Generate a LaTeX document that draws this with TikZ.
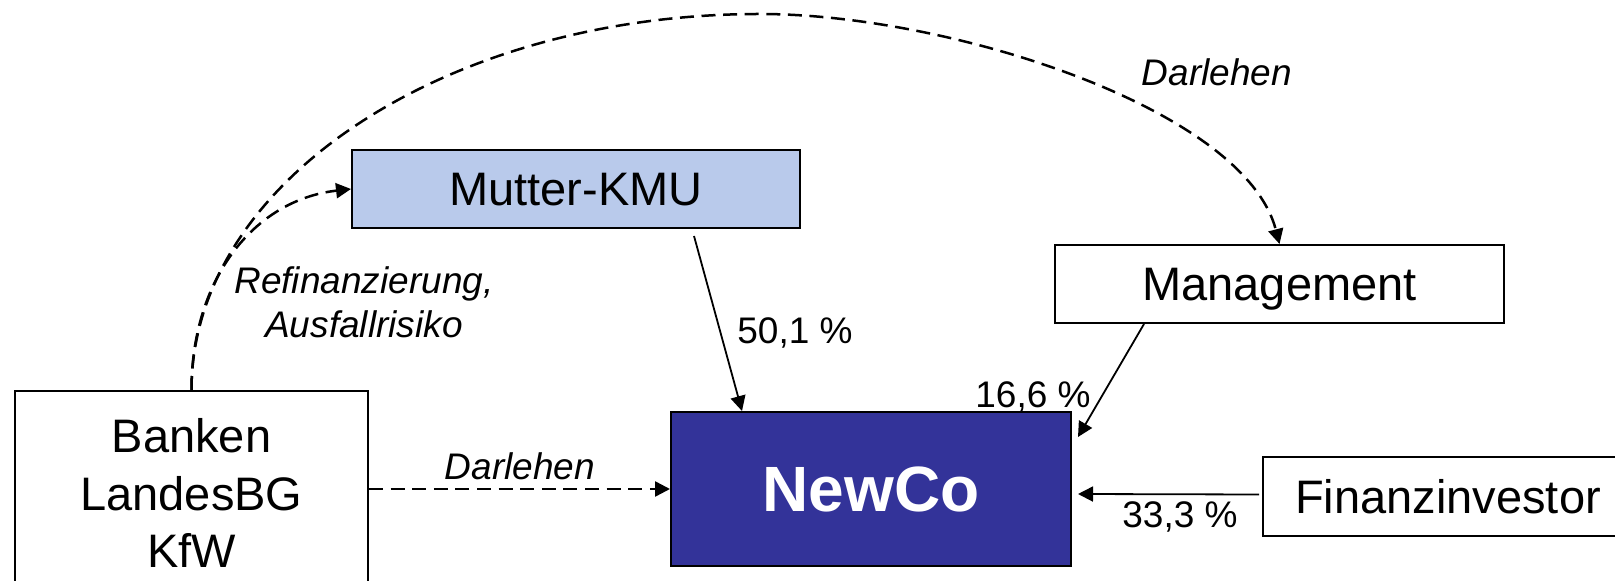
\documentclass[tikz,border=0pt]{standalone}
\usepackage{fontspec}
\setmainfont{Liberation Sans}
\usetikzlibrary{arrows.meta,calc}
\definecolor{mutterblue}{HTML}{B9CAEB}
\definecolor{newcoblue}{HTML}{333399}
\begin{document}
\begin{tikzpicture}[x=0.5pt,y=-0.5pt,
  box/.style={draw=black, line width=1pt, inner sep=0pt, text depth=0pt, font=\fontsize{23.5}{28}\selectfont},
  lbl/.style={font=\fontsize{18.5}{22}\selectfont, inner sep=0pt},
  ilbl/.style={font=\fontsize{18.5}{22}\selectfont\itshape, inner sep=0pt},
  solidarrow/.style={line width=0.9pt, -{Triangle[length=7.5pt,width=7.5pt]}},
  dasharrow/.style={line width=1.25pt, dash pattern=on 7pt off 3.8pt, -{Triangle[length=7.5pt,width=7.5pt]}}]
\useasboundingbox (0,0) rectangle (1615,581);
% boxes
\node[box, fill=mutterblue, minimum width=224pt, minimum height=39pt] (mu) at (576,189) {Mutter-KMU};
\node[box, minimum width=224.5pt, minimum height=39pt] (mg) at (1279.5,284) {Management};
\node[box, fill=newcoblue, text=white, minimum width=200pt, minimum height=77pt, font=\fontsize{32}{38}\selectfont\bfseries] (nc) at (871,489) {NewCo};
\node[box, minimum width=185pt, minimum height=39.5pt] (fi) at (1448,496.5) {Finanzinvestor};
\node[box, minimum width=176.5pt, minimum height=102pt, align=center, font=\fontsize{23.5}{28.75}\selectfont] (bk) at (191.5,493) {Banken\\LandesBG\\KfW};
% labels
\node[ilbl, anchor=base] (dl1) at (1217,86) {Darlehen};
\node[ilbl, anchor=base] (dl2) at (520,480) {Darlehen};
\node[ilbl, align=center] (rf) at (364,302.5) {Refinanzierung,\\Ausfallrisiko};
\node[lbl, anchor=base] (p1) at (795,344) {50,1 \%};
\node[lbl, anchor=base] (p2) at (1033,408) {16,6 \%};
\node[lbl, anchor=base] (p3) at (1180,528) {33,3 \%};
% connectors
\draw[dasharrow] (bk.east |- nc.west) -- (nc.west);
\draw[solidarrow] ($(mu.south west)+(343,7)$) -- ($(nc.north west)+(72,0)$);
\draw[solidarrow] ($(mg.south west)+(90,0)$) -- ($(nc.north east)+(6,26)$);
\draw[solidarrow] ($(fi.west)+(-3,-2)$) -- ($(nc.east)+(6,5)$);
\draw[dasharrow] (bk.north) .. controls +(0,-111) and +(-97,11) .. (mu.west);
\coordinate (pk) at (760,14);
\draw[dasharrow] (bk.north) .. controls +(0,-208) and (446,14) .. (pk) .. controls (950,14) and ($(mg.north)+(-35,-135)$) .. (mg.north);
\end{tikzpicture}
\end{document}
